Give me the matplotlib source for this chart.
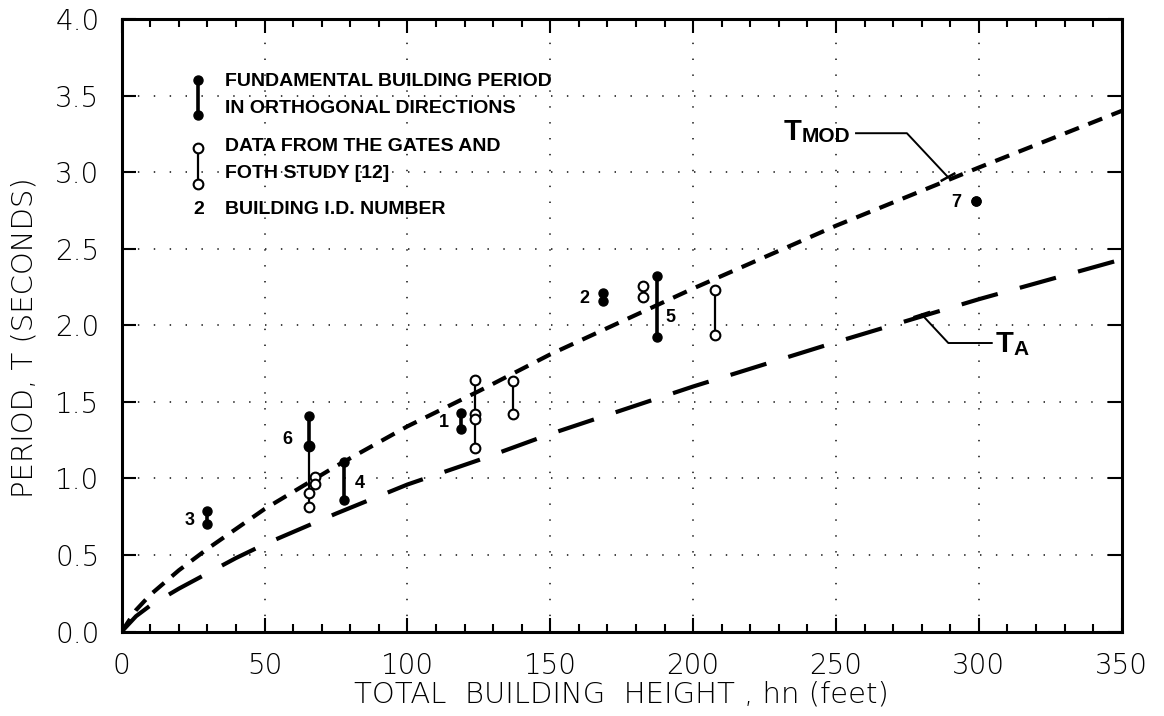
import matplotlib
matplotlib.use("Agg")
import matplotlib.pyplot as plt
from matplotlib.ticker import MultipleLocator, FormatStrFormatter

# approximate code curves
hn = [0, 5, 10, 20, 30, 40, 50, 75, 100, 125, 150, 200, 250, 300, 350]
t_a = [0, 0.10, 0.17, 0.28, 0.38, 0.48, 0.57, 0.77, 0.96, 1.12, 1.29, 1.60, 1.89, 2.17, 2.43]
t_mod = [0, 0.14, 0.24, 0.40, 0.54, 0.67, 0.80, 1.08, 1.34, 1.57, 1.81, 2.24, 2.65, 3.03, 3.40]

# measured buildings: periods in the two orthogonal directions
bldg_id = ["1", "2", "3", "4", "5", "6", "7"]
bldg_hn = [118.6, 168.6, 30.0, 77.9, 187.2, 65.4, 299.0]
bldg_t1 = [1.43, 2.21, 0.79, 1.11, 2.32, 1.41, 2.81]
bldg_t2 = [1.32, 2.16, 0.70, 0.86, 1.92, 1.21, 2.81]

# Gates and Foth study
gf_hn = [65.4, 67.6, 123.8, 137.0, 182.6, 207.7]
gf_t = [[1.21, 0.905, 0.81], [1.01, 0.965], [1.64, 1.42, 1.39, 1.20],
        [1.635, 1.42], [2.253, 2.184], [2.227, 1.938]]

# where the ID numbers sit relative to their building (points)
id_offset = {"1": (-12, -1), "2": (-14, -1), "3": (-13, -2), "4": (11, -2),
             "5": (10, -8), "6": (-15, -6), "7": (-14, -1)}

TICK_FONT = ["DejaVu Sans"]
BOLD_FONT = ["Liberation Sans", "DejaVu Sans"]

fig = plt.figure(figsize=(11.64, 7.16), dpi=100)
fig.patch.set_facecolor("white")
ax = fig.add_axes([0.1046, 0.118, 0.8591, 0.8555])

ax.plot(hn, t_mod, color="black", lw=3.0, ls=(0, (3.6, 2.4)), zorder=3)
ax.plot(hn, t_a, color="black", lw=3.0, ls=(0, (9, 5.5)), zorder=3)

# Gates & Foth open circles
for x, ts in zip(gf_hn, gf_t):
    ax.plot([x, x], [max(ts), min(ts)], color="black", lw=1.6, zorder=4)
    ax.plot([x] * len(ts), ts, "o", ms=7, mfc="white", mec="black", mew=1.5, zorder=5)

# measured buildings
for b, x, t1, t2 in zip(bldg_id, bldg_hn, bldg_t1, bldg_t2):
    ax.plot([x, x], [t1, t2], color="black", lw=2.6, zorder=6)
    ax.plot([x, x], [t1, t2], "o", ms=6.5, color="black", zorder=7)
    ax.annotate(b, (x, (t1 + t2) / 2), xytext=id_offset[b], textcoords="offset points",
                ha="center", va="center", fontsize=13, fontweight="bold",
                family=BOLD_FONT, zorder=8)

# legend drawn inside the plot
ax.plot([26.8, 26.8], [3.60, 3.37], color="black", lw=2.6)
ax.plot([26.8, 26.8], [3.60, 3.37], "o", ms=6.5, color="black")
ax.plot([26.8, 26.8], [3.155, 2.925], color="black", lw=1.6)
ax.plot([26.8, 26.8], [3.155, 2.925], "o", ms=7, mfc="white", mec="black", mew=1.5)
leg_kw = dict(ha="left", va="center", fontsize=14, fontweight="bold", family=BOLD_FONT)
ax.text(36.2, 3.59, "FUNDAMENTAL BUILDING PERIOD", **leg_kw)
ax.text(36.2, 3.415, "IN ORTHOGONAL DIRECTIONS", **leg_kw)
ax.text(36.2, 3.17, "DATA FROM THE GATES AND", **leg_kw)
ax.text(36.2, 2.99, "FOTH STUDY [12]", **leg_kw)
ax.text(26.8, 2.755, "2", ha="center", va="center", fontsize=14, fontweight="bold", family=BOLD_FONT)
ax.text(36.2, 2.755, "BUILDING I.D. NUMBER", **leg_kw)

# curve labels with leaders
ax.text(231.5, 3.212, "T", fontsize=21, fontweight="bold", family=BOLD_FONT, va="baseline")
ax.text(238.0, 3.196, "MOD", fontsize=15, fontweight="bold", family=BOLD_FONT, va="baseline")
ax.plot([257.0, 274.8, 289.2], [3.254, 3.254, 2.967], color="black", lw=1.4)
ax.plot([287.0, 291.4], [2.945, 2.99], color="black", lw=1.8)
ax.text(305.7, 1.826, "T", fontsize=21, fontweight="bold", family=BOLD_FONT, va="baseline")
ax.text(312.1, 1.804, "A", fontsize=15, fontweight="bold", family=BOLD_FONT, va="baseline")
ax.plot([280.0, 289.3, 304.5], [2.07, 1.884, 1.884], color="black", lw=1.4)
ax.plot([277.5, 282.5], [2.055, 2.085], color="black", lw=1.8)

ax.set_xlim(0, 350)
ax.set_ylim(0, 4.0)
ax.xaxis.set_major_locator(MultipleLocator(50))
ax.xaxis.set_minor_locator(MultipleLocator(10))
ax.yaxis.set_major_locator(MultipleLocator(0.5))
ax.yaxis.set_major_formatter(FormatStrFormatter("%.1f"))
ax.tick_params(which="both", direction="in", top=True, right=True, width=1.5)
ax.tick_params(which="major", length=10)
ax.tick_params(which="minor", length=6)
ax.tick_params(axis="x", pad=15)
ax.tick_params(axis="y", pad=16)
for lab in ax.get_xticklabels() + ax.get_yticklabels():
    lab.set_family(TICK_FONT)
    lab.set_fontsize(20)
    lab.set_fontweight(200)
ax.grid(which="major", color="#333333", lw=1.3, ls=(0, (0.8, 8)), zorder=1)
for s in ax.spines.values():
    s.set_linewidth(2.2)

ax.set_xlabel("TOTAL  BUILDING  HEIGHT , hn (feet)", fontsize=21, family=TICK_FONT, fontweight=200)
ax.set_ylabel("PERIOD, T (SECONDS)", fontsize=21, family=TICK_FONT, fontweight=200)
ax.xaxis.set_label_coords(0.5, -0.08)
ax.yaxis.set_label_coords(-0.083, 0.479)

fig.savefig("out.png", dpi=100, facecolor="white")
